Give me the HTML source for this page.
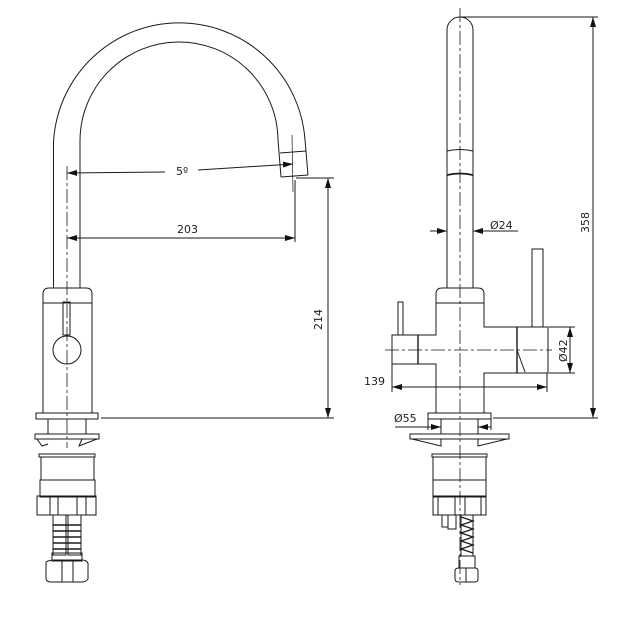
<!DOCTYPE html>
<html><head><meta charset="utf-8"><style>
html,body{margin:0;padding:0;background:#fff;}
svg{display:block;}
text{font-family:"DejaVu Sans","Liberation Sans",sans-serif;font-size:11px;fill:#222;}
</style></head><body>
<svg width="627" height="638" viewBox="0 0 627 638" xmlns="http://www.w3.org/2000/svg">
<defs>
<marker id="a" markerWidth="10" markerHeight="6" refX="10" refY="3" orient="auto-start-reverse" markerUnits="userSpaceOnUse"><path d="M0,0 L10,3 L0,6 Z" fill="#111"/></marker>
</defs>
<g fill="none" stroke="#1a1a1a" stroke-width="1">
<!-- LEFT VIEW -->
<path d="M53.5,288 L53.5,142 A126,126 0 0 1 305,140 L308,175"/>
<path d="M80,288 L80,142 A99,99 0 0 1 278,140 L281,177"/>
<path d="M280,153 L306,151 M281,177 L308,175"/>
<line x1="292" y1="135" x2="293" y2="192" stroke-width="0.7"/>
<line x1="67" y1="166" x2="67" y2="448" stroke-dasharray="14,3,3,3" stroke-width="0.8"/>
<line x1="67" y1="173" x2="165" y2="172" marker-start="url(#a)"/>
<line x1="198" y1="170" x2="293" y2="164" marker-end="url(#a)"/>
<line x1="67" y1="238" x2="295" y2="238" marker-start="url(#a)" marker-end="url(#a)"/>
<line x1="295" y1="180" x2="295" y2="242"/>
<line x1="296" y1="178" x2="334" y2="178"/>
<line x1="328" y1="178" x2="328" y2="418" marker-start="url(#a)" marker-end="url(#a)"/>
<line x1="101" y1="418" x2="334" y2="418"/>
<path d="M43,413 L43,294 Q43,288 49,288 L86,288 Q92,288 92,294 L92,413"/>
<line x1="43" y1="303" x2="92" y2="303"/>
<rect x="63" y="302" width="7" height="33"/>
<circle cx="67" cy="350" r="14"/>
<rect x="36" y="413" width="62" height="6"/>
<rect x="48" y="419" width="38" height="15"/>
<rect x="35" y="434" width="64" height="5"/>
<path d="M37,439 L42,446 L48,444 M97,439 L79,446 L82,439"/>
<rect x="39" y="454" width="56" height="3"/>
<rect x="41" y="457" width="53" height="23"/>
<rect x="40" y="480" width="55" height="17"/>
<rect x="37" y="496" width="59" height="19"/>
<path d="M50,496 V515 M58,496 V515 M77,496 V515 M86,496 V515"/>
<rect x="53" y="515" width="13" height="40"/><rect x="68" y="515" width="13" height="40"/>
<path d="M53,525 H81 M53,531 H81 M53,537 H81 M53,543 H81 M53,549 H81" stroke-width="1.4"/>
<rect x="52" y="553" width="30" height="8"/>
<path d="M46,562 Q49,560 55,560 L83,560 Q89,561 88,566 L88,579 Q86,582 82,582 L51,582 Q46,582 46,578 Z"/>
<path d="M62,560 V582 M73,560 V582"/>
<!-- RIGHT VIEW -->
<path d="M447,288 L447,30 A13,13 0 0 1 473,30 L473,288"/>
<path d="M447,151 Q460,148 473,151"/>
<path d="M447,175 Q460,172 473,175" stroke-width="1.8"/>
<line x1="460" y1="8" x2="460" y2="585" stroke-dasharray="14,3,3,3" stroke-width="0.8"/>
<line x1="430" y1="231" x2="447" y2="231" marker-end="url(#a)"/>
<line x1="518" y1="231" x2="473" y2="231" marker-end="url(#a)"/>
<line x1="460" y1="17" x2="598" y2="17"/>
<line x1="593" y1="17" x2="593" y2="418" marker-start="url(#a)" marker-end="url(#a)"/>
<line x1="493" y1="418" x2="598" y2="418"/>
<rect x="532" y="249" width="11" height="78"/>
<path d="M436,413 L436,364 L392,364 L392,335 L436,335 L436,294 Q436,288 442,288 L478,288 Q484,288 484,294 L484,327 L548,327 L548,373 L484,373 L484,413"/>
<line x1="436" y1="303" x2="484" y2="303"/>
<line x1="418" y1="335" x2="418" y2="364" stroke-width="1.4"/>
<rect x="398" y="302" width="5" height="33"/>
<line x1="517" y1="327" x2="517" y2="373" stroke-width="1.4"/>
<line x1="517" y1="350" x2="525" y2="372"/>
<line x1="385" y1="350" x2="552" y2="350" stroke-dasharray="14,3,3,3" stroke-width="0.8"/>
<line x1="549" y1="327" x2="575" y2="327"/><line x1="549" y1="373" x2="575" y2="373"/>
<line x1="570" y1="327" x2="570" y2="373" marker-start="url(#a)" marker-end="url(#a)"/>
<line x1="392" y1="364" x2="392" y2="392"/><line x1="547" y1="373" x2="547" y2="392"/>
<line x1="392" y1="387" x2="547" y2="387" marker-start="url(#a)" marker-end="url(#a)"/>
<rect x="428" y="413" width="63" height="6"/>
<line x1="395" y1="427" x2="441" y2="427" marker-end="url(#a)"/>
<line x1="491" y1="427" x2="478" y2="427" marker-end="url(#a)"/>
<line x1="428" y1="419" x2="428" y2="430"/><line x1="491" y1="419" x2="491" y2="430"/>
<rect x="441" y="419" width="37" height="15"/>
<rect x="410" y="434" width="99" height="5"/>
<path d="M412,439 L441,446 L441,439 M507,439 L478,446 L478,439"/>
<rect x="432" y="454" width="55" height="3"/>
<rect x="433" y="457" width="53" height="23"/>
<rect x="433" y="480" width="53" height="17"/>
<rect x="433" y="496" width="53" height="19"/>
<path d="M438,496 V515 M455,496 V515 M465,496 V515 M481,496 V515"/>
<rect x="442" y="515" width="6" height="12"/><rect x="448" y="515" width="8" height="14"/>
<path d="M461,517 L473,521 L461,525 L473,529 L461,533 L473,537 L461,541 L473,545 L461,549 L473,553" stroke-width="1.3"/>
<line x1="461" y1="515" x2="461" y2="556"/><line x1="473" y1="515" x2="473" y2="556"/>
<rect x="459" y="556" width="16" height="12"/>
<path d="M455,571 Q455,568 459,568 L475,568 Q478,568 478,571 L478,579 Q478,582 475,582 L459,582 Q455,582 455,579 Z M466,568 V582"/>
</g>
<text x="176" y="175">5º</text>
<text x="177" y="233">203</text>
<text transform="translate(322,330) rotate(-90)">214</text>
<text x="490" y="229">Ø24</text>
<text transform="translate(589,233) rotate(-90)">358</text>
<text transform="translate(567,362) rotate(-90)">Ø42</text>
<text x="364" y="385">139</text>
<text x="394" y="422">Ø55</text>
</svg>
</body></html>
